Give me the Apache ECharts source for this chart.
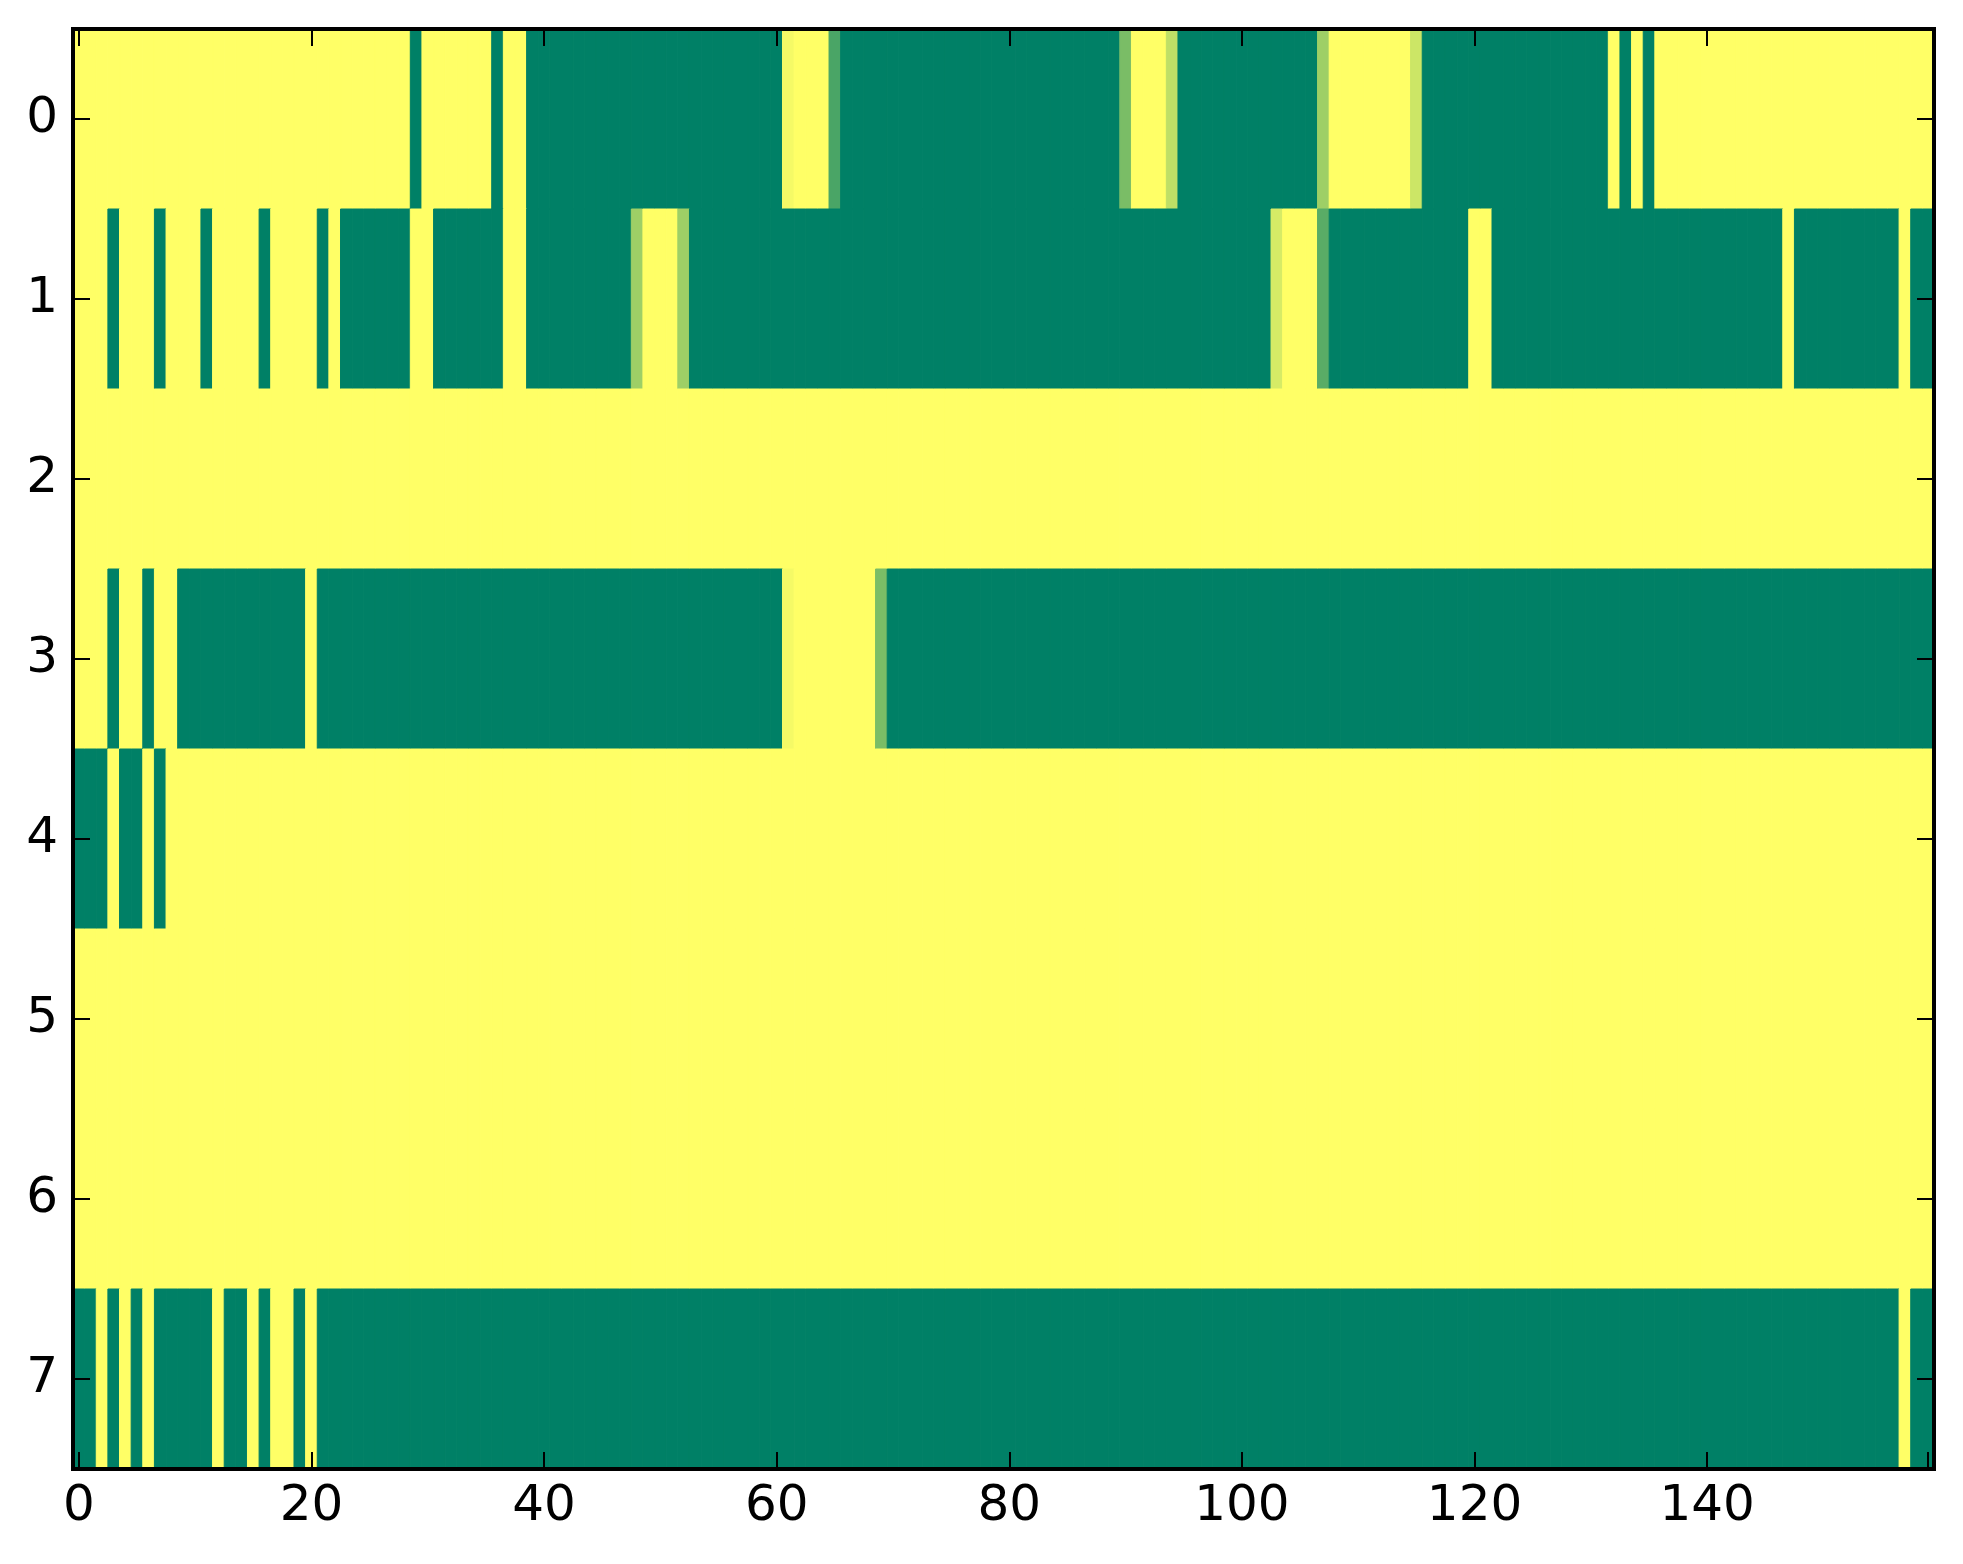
<!DOCTYPE html>
<html>
<head>
<meta charset="utf-8">
<script src="https://cdn.jsdelivr.net/npm/echarts@6/dist/echarts.min.js"></script>
<style>
html,body{margin:0;padding:0;background:#ffffff;}
#chart{width:1963px;height:1564px;}
</style>
</head>
<body>
<div id="chart"></div>
<script>
// Column categories 0..159 and row categories 0..7
const columnLabels = Array.from({length: 160}, (_, i) => String(i));
const rowLabels = ['0', '1', '2', '3', '4', '5', '6', '7'];
const xTickLabels = ['0', '20', '40', '60', '80', '100', '120', '140'];

// Cell values per row (0 = green, 1 = yellow)
const row0 = [
1,1,1,1,1,1,1,1,1,1, 1,1,1,1,1,1,1,1,1,1, 1,1,1,1,1,1,1,1,1,0,
1,1,1,1,1,1,0,1,1,0, 0,0,0,0,0,0,0,0,0,0, 0,0,0,0,0,0,0,0,0,0,
0,0.96,1,1,1,0.29,0,0,0,0, 0,0,0,0,0,0,0,0,0,0, 0,0,0,0,0,0,0,0,0,0,
0.48,1,1,1,0.75,0,0,0,0,0, 0,0,0,0,0,0,0,0.62,1,1, 1,1,1,1,1,0.8,0,0,0,0,
0,0,0,0,0,0,0,0,0,0, 0,0,1,0,1,0,1,1,1,1, 1,1,1,1,1,1,1,1,1,1,
1,1,1,1,1,1,1,1,1,1
];
const row1 = [
1,1,1,0,1,1,1,0,1,1, 1,0,1,1,1,1,0,1,1,1, 1,0,1,0,0,0,0,0,0,1,
1,0,0,0,0,0,0,1,1,0, 0,0,0,0,0,0,0,0,0.62,1, 1,1,0.62,0,0,0,0,0,0,0,
0,0,0,0,0,0,0,0,0,0, 0,0,0,0,0,0,0,0,0,0, 0,0,0,0,0,0,0,0,0,0,
0,0,0,0,0,0,0,0,0,0, 0,0,0,0.84,1,1,1,0.35,0,0, 0,0,0,0,0,0,0,0,0,0,
1,1,0,0,0,0,0,0,0,0, 0,0,0,0,0,0,0,0,0,0, 0,0,0,0,0,0,0,1,0,0,
0,0,0,0,0,0,0,1,0,0
];
const row2 = [
1,1,1,1,1,1,1,1,1,1, 1,1,1,1,1,1,1,1,1,1, 1,1,1,1,1,1,1,1,1,1,
1,1,1,1,1,1,1,1,1,1, 1,1,1,1,1,1,1,1,1,1, 1,1,1,1,1,1,1,1,1,1,
1,1,1,1,1,1,1,1,1,1, 1,1,1,1,1,1,1,1,1,1, 1,1,1,1,1,1,1,1,1,1,
1,1,1,1,1,1,1,1,1,1, 1,1,1,1,1,1,1,1,1,1, 1,1,1,1,1,1,1,1,1,1,
1,1,1,1,1,1,1,1,1,1, 1,1,1,1,1,1,1,1,1,1, 1,1,1,1,1,1,1,1,1,1,
1,1,1,1,1,1,1,1,1,1
];
const row3 = [
1,1,1,0,1,1,0,1,1,0, 0,0,0,0,0,0,0,0,0,0, 1,0,0,0,0,0,0,0,0,0,
0,0,0,0,0,0,0,0,0,0, 0,0,0,0,0,0,0,0,0,0, 0,0,0,0,0,0,0,0,0,0,
0,0.96,1,1,1,1,1,1,1,0.48, 0,0,0,0,0,0,0,0,0,0, 0,0,0,0,0,0,0,0,0,0,
0,0,0,0,0,0,0,0,0,0, 0,0,0,0,0,0,0,0,0,0, 0,0,0,0,0,0,0,0,0,0,
0,0,0,0,0,0,0,0,0,0, 0,0,0,0,0,0,0,0,0,0, 0,0,0,0,0,0,0,0,0,0,
0,0,0,0,0,0,0,0,0,0
];
const row4 = [
0,0,0,1,0,0,1,0,1,1, 1,1,1,1,1,1,1,1,1,1, 1,1,1,1,1,1,1,1,1,1,
1,1,1,1,1,1,1,1,1,1, 1,1,1,1,1,1,1,1,1,1, 1,1,1,1,1,1,1,1,1,1,
1,1,1,1,1,1,1,1,1,1, 1,1,1,1,1,1,1,1,1,1, 1,1,1,1,1,1,1,1,1,1,
1,1,1,1,1,1,1,1,1,1, 1,1,1,1,1,1,1,1,1,1, 1,1,1,1,1,1,1,1,1,1,
1,1,1,1,1,1,1,1,1,1, 1,1,1,1,1,1,1,1,1,1, 1,1,1,1,1,1,1,1,1,1,
1,1,1,1,1,1,1,1,1,1
];
const row5 = [
1,1,1,1,1,1,1,1,1,1, 1,1,1,1,1,1,1,1,1,1, 1,1,1,1,1,1,1,1,1,1,
1,1,1,1,1,1,1,1,1,1, 1,1,1,1,1,1,1,1,1,1, 1,1,1,1,1,1,1,1,1,1,
1,1,1,1,1,1,1,1,1,1, 1,1,1,1,1,1,1,1,1,1, 1,1,1,1,1,1,1,1,1,1,
1,1,1,1,1,1,1,1,1,1, 1,1,1,1,1,1,1,1,1,1, 1,1,1,1,1,1,1,1,1,1,
1,1,1,1,1,1,1,1,1,1, 1,1,1,1,1,1,1,1,1,1, 1,1,1,1,1,1,1,1,1,1,
1,1,1,1,1,1,1,1,1,1
];
const row6 = [
1,1,1,1,1,1,1,1,1,1, 1,1,1,1,1,1,1,1,1,1, 1,1,1,1,1,1,1,1,1,1,
1,1,1,1,1,1,1,1,1,1, 1,1,1,1,1,1,1,1,1,1, 1,1,1,1,1,1,1,1,1,1,
1,1,1,1,1,1,1,1,1,1, 1,1,1,1,1,1,1,1,1,1, 1,1,1,1,1,1,1,1,1,1,
1,1,1,1,1,1,1,1,1,1, 1,1,1,1,1,1,1,1,1,1, 1,1,1,1,1,1,1,1,1,1,
1,1,1,1,1,1,1,1,1,1, 1,1,1,1,1,1,1,1,1,1, 1,1,1,1,1,1,1,1,1,1,
1,1,1,1,1,1,1,1,1,1
];
const row7 = [
0,0,1,0,1,0,1,0,0,0, 0,0,1,0,0,1,0,1,1,0, 1,0,0,0,0,0,0,0,0,0,
0,0,0,0,0,0,0,0,0,0, 0,0,0,0,0,0,0,0,0,0, 0,0,0,0,0,0,0,0,0,0,
0,0,0,0,0,0,0,0,0,0, 0,0,0,0,0,0,0,0,0,0, 0,0,0,0,0,0,0,0,0,0,
0,0,0,0,0,0,0,0,0,0, 0,0,0,0,0,0,0,0,0,0, 0,0,0,0,0,0,0,0,0,0,
0,0,0,0,0,0,0,0,0,0, 0,0,0,0,0,0,0,0,0,0, 0,0,0,0,0,0,0,0,0,0,
0,0,0,0,0,0,0,1,0,0
];
const rows = [row0, row1, row2, row3, row4, row5, row6, row7];

const cells = [];
rows.forEach((r, y) => r.forEach((v, x) => cells.push([x, y, v])));

const FONT = 'DejaVu Sans';
const tickStyle = {show: true, inside: true, length: 17, alignWithLabel: true, lineStyle: {color: '#000', width: 2}};
const lineStyle = {show: true, onZero: false, lineStyle: {color: '#000', width: 4, cap: 'square'}};

const chart = echarts.init(document.getElementById('chart'), null, {renderer: 'canvas'});
chart.setOption({
  animation: false,
  backgroundColor: '#ffffff',
  grid: {left: 73, top: 29, width: 1861, height: 1440, containLabel: false},
  xAxis: [
    {
      type: 'category', data: columnLabels, position: 'bottom', z: 10,
      axisLine: lineStyle,
      axisTick: Object.assign({}, tickStyle, {interval: 19}),
      axisLabel: {show: true, interval: 0, margin: 13, color: '#000', fontSize: 50, fontFamily: FONT,
        formatter: (v) => xTickLabels.includes(v) ? v : ''},
      splitLine: {show: false}
    },
    {
      type: 'category', data: columnLabels, position: 'top', z: 10,
      axisLine: lineStyle,
      axisTick: Object.assign({}, tickStyle, {interval: 19}),
      axisLabel: {show: false},
      splitLine: {show: false}
    }
  ],
  yAxis: [
    {
      type: 'category', data: rowLabels, inverse: true, position: 'left', z: 10,
      axisLine: lineStyle,
      axisTick: Object.assign({}, tickStyle, {interval: 0}),
      axisLabel: {show: true, interval: 0, margin: 15, color: '#000', fontSize: 50, fontFamily: FONT},
      splitLine: {show: false}
    },
    {
      type: 'category', data: rowLabels, inverse: true, position: 'right', z: 10,
      axisLine: lineStyle,
      axisTick: Object.assign({}, tickStyle, {interval: 0}),
      axisLabel: {show: false},
      splitLine: {show: false}
    }
  ],
  visualMap: {
    show: false, type: 'continuous', min: 0, max: 1, dimension: 2, seriesIndex: 0,
    inRange: {color: ['#008066', '#ffff66']}
  },
  series: [{
    type: 'custom', xAxisIndex: 0, yAxisIndex: 0, data: cells, silent: true,
    encode: {x: 0, y: 1},
    clip: true,
    renderItem: function (params, api) {
      const c = api.coord([api.value(0), api.value(1)]);
      const s = api.size([1, 1]);
      const col = api.visual('color');
      return {
        type: 'rect',
        shape: {x: c[0] - s[0] / 2, y: c[1] - s[1] / 2, width: s[0], height: s[1]},
        style: {fill: col, stroke: col, lineWidth: 1}
      };
    }
  }]
});
</script>
</body>
</html>
